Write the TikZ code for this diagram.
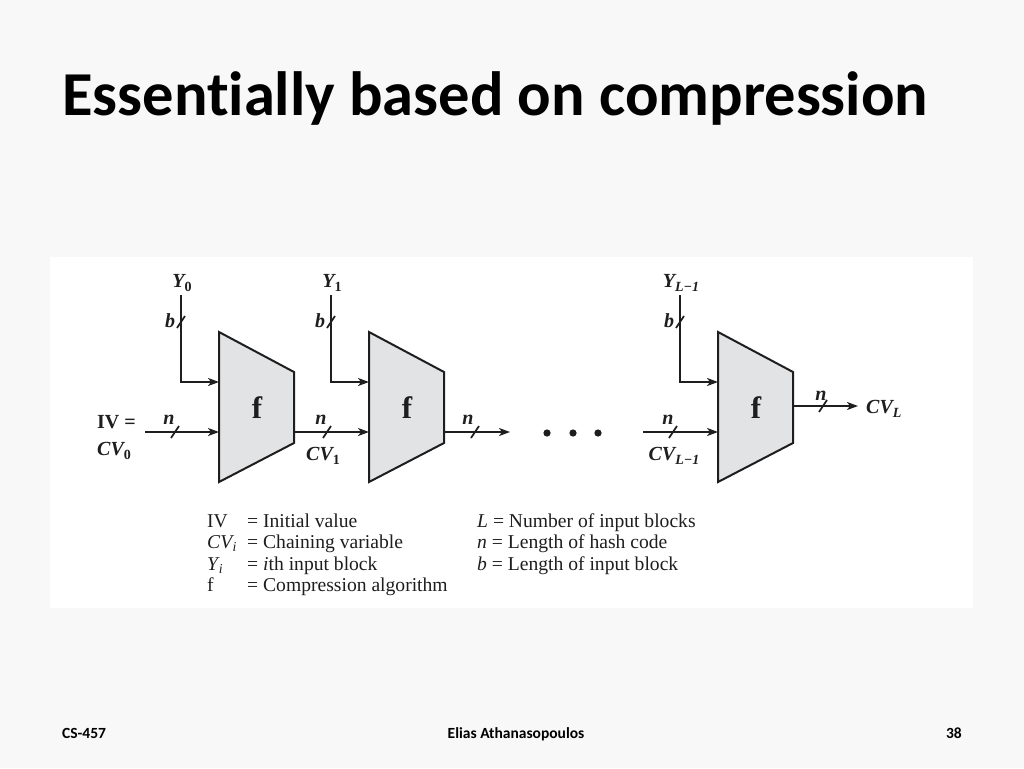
\documentclass[tikz,border=0pt]{standalone}
\usepackage{fontspec}
\setmainfont{Liberation Serif}
\newfontfamily\slidefont[Ligatures=NoCommon]{Carlito}
\usetikzlibrary{arrows.meta}
\definecolor{slidebg}{RGB}{248,248,248}
\definecolor{blockgray}{RGB}{226,227,229}
\definecolor{ink}{RGB}{30,30,30}
\newcommand\sub[1]{\raisebox{-0.5ex}{\fontsize{14}{14}\selectfont #1}}
\newcommand\tickmark[2]{\draw[tickline] (#1-4,#2+6) -- (#1+4,#2-6);}
\begin{document}
\begin{tikzpicture}[x=1pt,y=-1pt,
  wire/.style={line width=1.8pt,draw=ink},
  arr/.style={wire,-{Stealth[length=11pt,width=8pt,inset=3pt]}},
  blk/.style={line width=2pt,draw=ink,fill=blockgray,line join=miter},
  tickline/.style={line width=1.7pt,draw=ink},
  lab/.style={font=\fontsize{20}{20}\selectfont\bfseries\itshape,inner sep=0pt,text=ink},
  flab/.style={font=\fontsize{31}{31}\selectfont\bfseries,inner sep=0pt,text=ink},
  leg/.style={font=\fontsize{19.6}{19.6}\selectfont,inner sep=0pt,anchor=base west,text=ink},
  slide/.style={font=\slidefont\bfseries,inner sep=0pt,text=black}]
\useasboundingbox (0,0) rectangle (1024,768);
\fill[slidebg] (0,0) rectangle (1024,768);
\fill[white] (50,257) rectangle (973,608);

\node[slide,font=\slidefont\bfseries\fontsize{62.5}{62.5}\selectfont,anchor=base west] (title) at (62,115) {Essentially based on compression};

% blocks
\foreach \n/\x/\ylab in {1/219/{Y\sub{\upshape 0}},2/369/{Y\sub{\upshape 1}},3/718/{Y\sub{L−1}}}{
  \draw[blk] (\x,332) -- (\x+75,372) -- (\x+75,443) -- (\x,482) -- cycle;
  \node[flab] (f\n) at (\x+38,408) {f};
  \coordinate (in\n) at (\x,432);
  \coordinate (yin\n) at (\x,382);
  \coordinate (ytop\n) at (\x-38,295);
  \node[lab,anchor=base] (y\n) at (\x-37,287) {\ylab};
  \node[lab] (b\n) at (\x-49,321) {b};
  \draw[arr] (ytop\n) |- (yin\n);
  \tickmark{\x-38}{322}
}
\coordinate (out1) at (294,432);
\coordinate (out2) at (444,432);
\coordinate (out3) at (793,406);

% chaining connectors
\coordinate (ivstart) at (145,432);
\coordinate (end2) at (510,432);
\coordinate (start3) at (643,432);
\coordinate (endL) at (858,406);
\draw[arr] (ivstart) -- (in1);
\draw[arr] (out1) -- (in2);
\draw[arr] (out2) -- (end2);
\draw[arr] (start3) -- (in3);
\draw[arr] (out3) -- (endL);
\tickmark{175}{432}
\tickmark{327}{432}
\tickmark{475}{432}
\tickmark{673}{432}
\tickmark{823}{406}

\node[lab] (n1) at (169,420) {n};
\node[lab] (n2) at (321,420) {n};
\node[lab] (n3) at (468,420) {n};
\node[lab] (n4) at (668,420) {n};
\node[lab] (n5) at (821,396) {n};

\node[lab,anchor=base west] (iv) at (97,428) {\upshape IV =};
\node[lab,anchor=base west] (cv0) at (97,455) {CV\sub{\upshape 0}};
\node[lab,anchor=base] (cv1) at (323,460) {CV\sub{\upshape 1}};
\node[lab,anchor=base] (cvl1) at (674,460) {CV\sub{L−1}};
\node[lab,anchor=base west] (cvl) at (866,413) {CV\sub{L}};

% dots
\foreach \i/\x in {1/547,2/573,3/598}{
  \fill[ink] (\x,433) circle (3.6pt) coordinate (dot\i);
}

% legend
\node[leg] (k1) at (207,527) {IV};
\node[leg] (k2) at (207,548.5) {\textit{CV}\kern-1.5pt\textsubscript{\textit{i}}};
\node[leg] (k3) at (207,570) {\textit{Y}\kern-1pt\textsubscript{\textit{i}}};
\node[leg] (k4) at (207,591) {f};
\node[leg] (d1) at (247,527) {= Initial value};
\node[leg] (d2) at (247,548.5) {= Chaining variable};
\node[leg] (d3) at (247,570) {= \textit{i}th input block};
\node[leg] (d4) at (247,591) {= Compression algorithm};
\node[leg] (r1) at (477,527) {\textit{L} = Number of input blocks};
\node[leg] (r2) at (477,548.5) {\textit{n} = Length of hash code};
\node[leg] (r3) at (477,570) {\textit{b} = Length of input block};

% footer
\node[slide,font=\slidefont\bfseries\fontsize{15.5}{15.5}\selectfont,anchor=base west] (ft1) at (62,738) {CS-457};
\node[slide,font=\slidefont\bfseries\fontsize{15.5}{15.5}\selectfont,anchor=base] (ft2) at (516,738) {Elias Athanasopoulos};
\node[slide,font=\slidefont\bfseries\fontsize{15.5}{15.5}\selectfont,anchor=base east] (ft3) at (962,738) {38};
\end{tikzpicture}
\end{document}
